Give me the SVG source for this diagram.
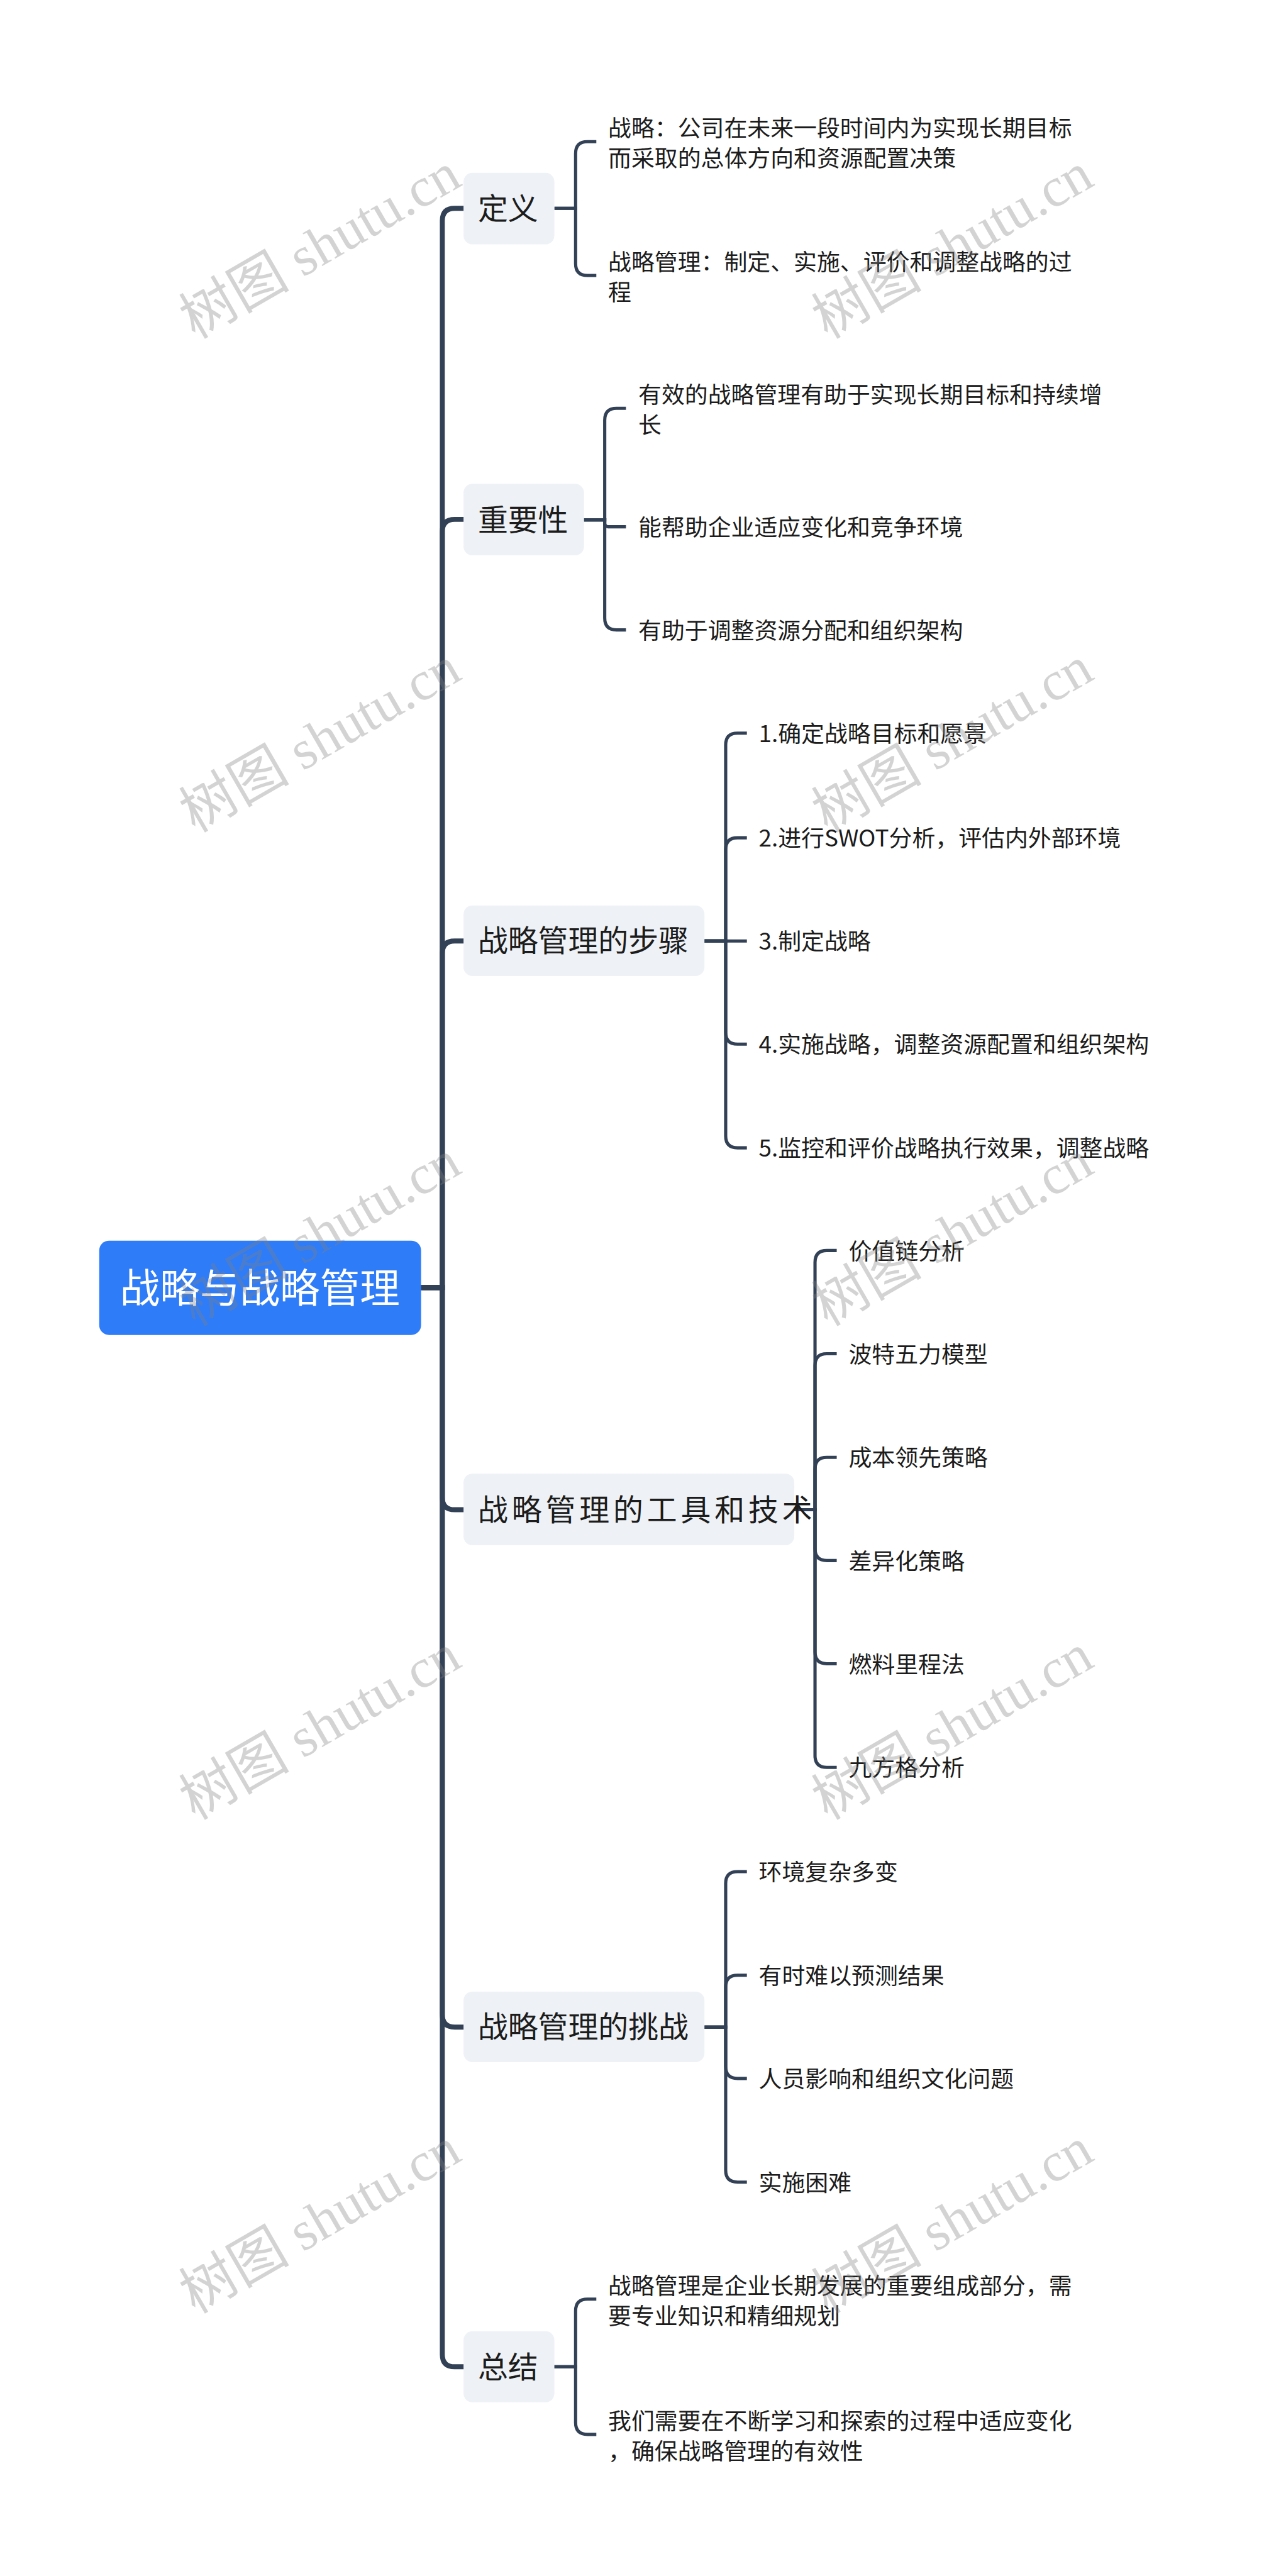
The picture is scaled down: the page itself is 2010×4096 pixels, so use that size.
<svg xmlns="http://www.w3.org/2000/svg" width="2010" height="4096" viewBox="0 0 2010 4096">
<style>
.bg{fill:#ffffff}
.main{fill:none;stroke:#334156;stroke-width:10}
.sub{fill:none;stroke:#334156;stroke-width:6.5}
.l1box{fill:#eef1f5}
.rootbox{fill:#2e7cf8}
.t{font-family:"Noto Sans CJK SC","Noto Sans",sans-serif;fill:#1c1c1c}
.root{font-size:81px;fill:#ffffff}
.l1{font-size:61px}
.leaf{font-size:47px}
.wm{font-family:"Liberation Serif","Noto Sans CJK SC",serif;font-size:112px;fill:#808080;fill-opacity:0.35}
</style>
<rect class="bg" x="0" y="0" width="2010" height="4096"/>
<g transform="scale(0.785)">
<g id="connectors">
<path class="main" d="M853 2608 H896 V447 Q896 422 921 422 H940"/>
<path class="main" d="M853 2608 H896 V1077 Q896 1052 921 1052 H940"/>
<path class="main" d="M853 2608 H896 V1931 Q896 1906 921 1906 H940"/>
<path class="main" d="M853 2608 H896 V3033 Q896 3058 921 3058 H940"/>
<path class="main" d="M853 2608 H896 V4081 Q896 4106 921 4106 H940"/>
<path class="main" d="M853 2608 H896 V4769 Q896 4794 921 4794 H940"/>
<path class="sub" d="M1123 422 H1166 V311 Q1166 287 1190 287 H1208"/>
<path class="sub" d="M1123 422 H1166 V534 Q1166 558 1190 558 H1208"/>
<path class="sub" d="M1183 1053 H1225 V851 Q1225 827 1249 827 H1268"/>
<path class="sub" d="M1183 1053 H1225 V1060 Q1225 1067 1232 1067 H1268"/>
<path class="sub" d="M1183 1053 H1225 V1252 Q1225 1276 1249 1276 H1268"/>
<path class="sub" d="M1427 1906 H1470 V1509 Q1470 1485 1494 1485 H1513"/>
<path class="sub" d="M1427 1906 H1470 V1721 Q1470 1697 1494 1697 H1513"/>
<path class="sub" d="M1427 1906 H1513"/>
<path class="sub" d="M1427 1906 H1470 V2091 Q1470 2115 1494 2115 H1513"/>
<path class="sub" d="M1427 1906 H1470 V2301 Q1470 2325 1494 2325 H1513"/>
<path class="sub" d="M1609 3058 H1651 V2557 Q1651 2533 1675 2533 H1695"/>
<path class="sub" d="M1609 3058 H1651 V2766 Q1651 2742 1675 2742 H1695"/>
<path class="sub" d="M1609 3058 H1651 V2976 Q1651 2952 1675 2952 H1695"/>
<path class="sub" d="M1609 3058 H1651 V3137 Q1651 3161 1675 3161 H1695"/>
<path class="sub" d="M1609 3058 H1651 V3346 Q1651 3370 1675 3370 H1695"/>
<path class="sub" d="M1609 3058 H1651 V3556 Q1651 3580 1675 3580 H1695"/>
<path class="sub" d="M1427 4106 H1470 V3815 Q1470 3791 1494 3791 H1513"/>
<path class="sub" d="M1427 4106 H1470 V4025 Q1470 4001 1494 4001 H1513"/>
<path class="sub" d="M1427 4106 H1470 V4186 Q1470 4210 1494 4210 H1513"/>
<path class="sub" d="M1427 4106 H1470 V4396 Q1470 4420 1494 4420 H1513"/>
<path class="sub" d="M1122 4794 H1166 V4681 Q1166 4657 1190 4657 H1208"/>
<path class="sub" d="M1122 4794 H1166 V4907 Q1166 4931 1190 4931 H1208"/>
</g>
<g id="root">
<rect class="rootbox" x="201" y="2513" width="652" height="191" rx="20"/>
<text class="t root" x="243" y="2638">战略与战略管理</text>
</g>
<g id="n-dingyi">
<rect class="l1box" x="939" y="350" width="184" height="145" rx="18"/>
<text class="t l1" x="968" y="444">定义</text>
</g>
<g id="n-dingyi-1"><text class="t leaf" x="1232" y="277">战略：公司在未来一段时间内为实现长期目标</text><text class="t leaf" x="1232" y="338">而采取的总体方向和资源配置决策</text></g>
<g id="n-dingyi-2"><text class="t leaf" x="1232" y="548">战略管理：制定、实施、评价和调整战略的过</text><text class="t leaf" x="1232" y="609">程</text></g>
<g id="n-zhongyao">
<rect class="l1box" x="939" y="980" width="244" height="145" rx="18"/>
<text class="t l1" x="968" y="1075">重要性</text>
</g>
<g id="n-zhongyao-1"><text class="t leaf" x="1293" y="817">有效的战略管理有助于实现长期目标和持续增</text><text class="t leaf" x="1293" y="878">长</text></g>
<g id="n-zhongyao-2"><text class="t leaf" x="1293" y="1085">能帮助企业适应变化和竞争环境</text></g>
<g id="n-zhongyao-3"><text class="t leaf" x="1293" y="1294">有助于调整资源分配和组织架构</text></g>
<g id="n-buzhou">
<rect class="l1box" x="939" y="1834" width="488" height="143" rx="18"/>
<text class="t l1" x="968" y="1928">战略管理的步骤</text>
</g>
<g id="n-buzhou-1"><text class="t leaf" x="1537" y="1503">1.确定战略目标和愿景</text></g>
<g id="n-buzhou-2"><text class="t leaf" x="1537" y="1715">2.进行SWOT分析，评估内外部环境</text></g>
<g id="n-buzhou-3"><text class="t leaf" x="1537" y="1924">3.制定战略</text></g>
<g id="n-buzhou-4"><text class="t leaf" x="1537" y="2133">4.实施战略，调整资源配置和组织架构</text></g>
<g id="n-buzhou-5"><text class="t leaf" x="1537" y="2343">5.监控和评价战略执行效果，调整战略</text></g>
<g id="n-gongju">
<rect class="l1box" x="939" y="2985" width="670" height="145" rx="18"/>
<text class="t l1" x="968" y="3080" letter-spacing="7.5">战略管理的工具和技术</text>
</g>
<g id="n-gongju-1"><text class="t leaf" x="1719" y="2551">价值链分析</text></g>
<g id="n-gongju-2"><text class="t leaf" x="1719" y="2760">波特五力模型</text></g>
<g id="n-gongju-3"><text class="t leaf" x="1719" y="2970">成本领先策略</text></g>
<g id="n-gongju-4"><text class="t leaf" x="1719" y="3179">差异化策略</text></g>
<g id="n-gongju-5"><text class="t leaf" x="1719" y="3388">燃料里程法</text></g>
<g id="n-gongju-6"><text class="t leaf" x="1719" y="3598">九方格分析</text></g>
<g id="n-tiaozhan">
<rect class="l1box" x="939" y="4034" width="488" height="143" rx="18"/>
<text class="t l1" x="968" y="4128">战略管理的挑战</text>
</g>
<g id="n-tiaozhan-1"><text class="t leaf" x="1537" y="3809">环境复杂多变</text></g>
<g id="n-tiaozhan-2"><text class="t leaf" x="1537" y="4019">有时难以预测结果</text></g>
<g id="n-tiaozhan-3"><text class="t leaf" x="1537" y="4228">人员影响和组织文化问题</text></g>
<g id="n-tiaozhan-4"><text class="t leaf" x="1537" y="4438">实施困难</text></g>
<g id="n-zongjie">
<rect class="l1box" x="939" y="4722" width="184" height="144" rx="18"/>
<text class="t l1" x="968" y="4816">总结</text>
</g>
<g id="n-zongjie-1"><text class="t leaf" x="1232" y="4647">战略管理是企业长期发展的重要组成部分，需</text><text class="t leaf" x="1232" y="4708">要专业知识和精细规划</text></g>
<g id="n-zongjie-2"><text class="t leaf" x="1232" y="4921">我们需要在不断学习和探索的过程中适应变化</text><text class="t leaf" x="1232" y="4982">，确保战略管理的有效性</text></g>
<g id="watermarks">
<text class="wm" x="395" y="688" transform="rotate(-30 395 688)">树图 shutu.cn</text>
<text class="wm" x="1676" y="688" transform="rotate(-30 1676 688)">树图 shutu.cn</text>
<text class="wm" x="395" y="1688" transform="rotate(-30 395 1688)">树图 shutu.cn</text>
<text class="wm" x="1676" y="1688" transform="rotate(-30 1676 1688)">树图 shutu.cn</text>
<text class="wm" x="395" y="2688" transform="rotate(-30 395 2688)">树图 shutu.cn</text>
<text class="wm" x="1676" y="2688" transform="rotate(-30 1676 2688)">树图 shutu.cn</text>
<text class="wm" x="395" y="3688" transform="rotate(-30 395 3688)">树图 shutu.cn</text>
<text class="wm" x="1676" y="3688" transform="rotate(-30 1676 3688)">树图 shutu.cn</text>
<text class="wm" x="395" y="4688" transform="rotate(-30 395 4688)">树图 shutu.cn</text>
<text class="wm" x="1676" y="4688" transform="rotate(-30 1676 4688)">树图 shutu.cn</text>
</g>
</g>
</svg>
